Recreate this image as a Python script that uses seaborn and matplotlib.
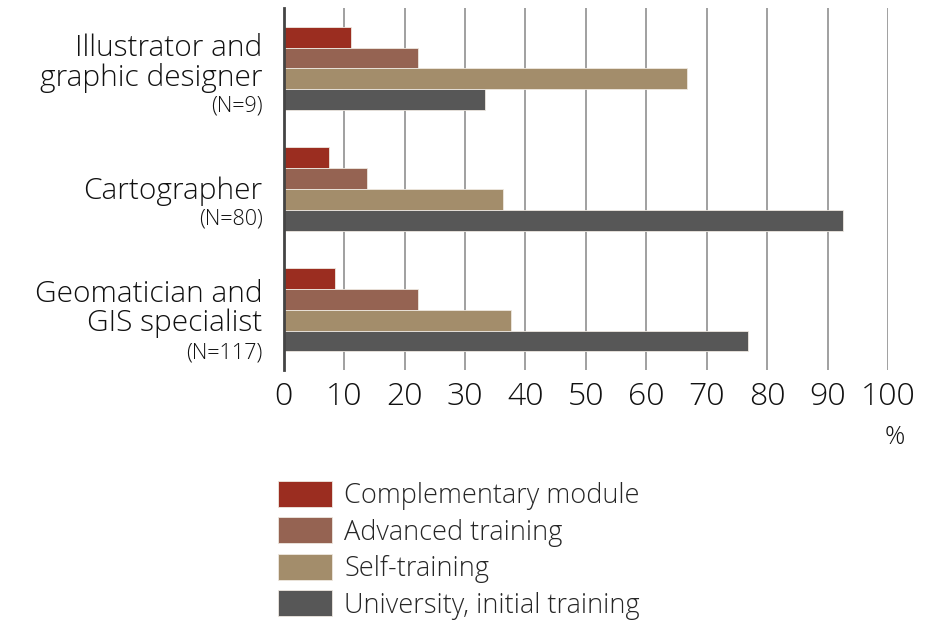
import pandas as pd
import matplotlib.pyplot as plt
import seaborn as sns

# data
categories = ['Illustrator and\ngraphic designer', 'Cartographer', 'Geomatician and\nGIS specialist']
sample_sizes = ['(N=9)', '(N=80)', '(N=117)']
series = ['Complementary module', 'Advanced training', 'Self-training', 'University, initial training']
complementary = [11.1, 7.5, 8.5]
advanced = [22.2, 13.8, 22.2]
self_training = [66.7, 36.3, 37.6]
university = [33.3, 92.5, 76.9]
colors = ['#9b2d20', '#956352', '#a38d6b', '#575757']

rows = []
for name, vals in zip(series, [complementary, advanced, self_training, university]):
    for cat, v in zip(categories, vals):
        rows.append({'category': cat, 'series': name, 'value': v})
df = pd.DataFrame(rows)

sns.set_theme(style='white')
plt.rcParams['font.family'] = ['Open Sans', 'DejaVu Sans']
plt.rcParams['font.weight'] = 'light'

fig = plt.figure(figsize=(9.27, 6.21), dpi=100)
ax = fig.add_axes([0.306, 0.404, 0.652, 0.583])

sns.barplot(data=df, y='category', x='value', hue='series', order=categories,
            hue_order=series, palette=colors, saturation=1, orient='h', width=0.69,
            edgecolor='#eee8e0', linewidth=0.6, ax=ax, legend=False, zorder=3)

ax.set_xlim(0, 100)
ax.set_ylim(2.5, -0.5)
ax.set_xticks(range(0, 101, 10))
ax.tick_params(axis='x', labelsize=23, colors='#111111', length=0, pad=8)
ax.set_yticks([])
ax.set_xlabel('')
ax.set_ylabel('')
ax.grid(axis='x', color='#999999', linewidth=1.3, zorder=0)
for s in ['top', 'right', 'bottom']:
    ax.spines[s].set_visible(False)
ax.spines['left'].set_color('#444444')
ax.spines['left'].set_linewidth(2)
ax.spines['left'].set_zorder(4)

# category labels with sample size underneath
main_off = [-0.04, 0.02, -0.01]
n_off = [0.31, 0.25, 0.36]
for i, (cat, n) in enumerate(zip(categories, sample_sizes)):
    ax.text(-0.035, i + main_off[i], cat, transform=ax.get_yaxis_transform(),
            ha='right', va='center', fontsize=21.5, color='#111111', linespacing=1.0)
    ax.text(-0.035, i + n_off[i], n, transform=ax.get_yaxis_transform(),
            ha='right', va='center', fontsize=15.5, color='#111111')

fig.text(895 / 927, 1 - 437 / 621, '%', ha='center', va='center', fontsize=18, color='#111111')

handles = [plt.Rectangle((0, 0), 1, 1, facecolor=c, edgecolor='#eee8e0', linewidth=0.6) for c in colors]
fig.legend(handles, series, loc='upper left', bbox_to_anchor=(0.288, 1 - 470 / 621),
           frameon=False, fontsize=19.5, handlelength=2.0, handleheight=1.1,
           labelspacing=0.27, handletextpad=0.45, borderaxespad=0)

fig.savefig('out.png', dpi=100)
